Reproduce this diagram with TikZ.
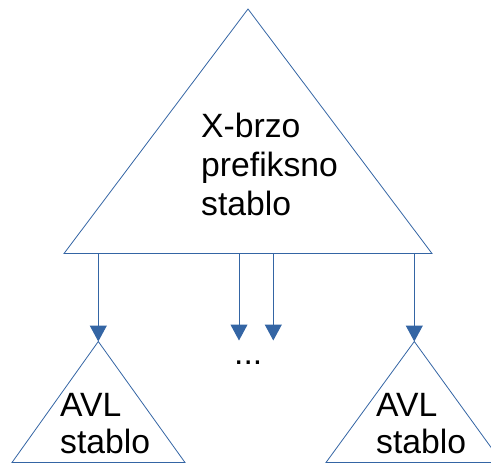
\documentclass[tikz,border=0pt]{standalone}
\usepackage{fontspec}
\setmainfont{Liberation Sans}
\usetikzlibrary{arrows.meta}
\definecolor{edge}{HTML}{3465A4}
\tikzset{
  tri/.style={draw=edge, line width=0.8pt, line join=miter},
  link/.style={draw=edge, line width=1pt, -{Triangle[length=16pt,width=17pt]}},
  lbl/.style={anchor=base west, inner sep=0pt, font=\fontsize{33.7}{38}\selectfont},
}
\begin{document}
\begin{tikzpicture}[x=1pt,y=-1pt]
  \useasboundingbox (0,0) rectangle (491,464);
  % upper tree
  \coordinate (top) at (248,9);
  \coordinate (bl) at (64,253.5);
  \coordinate (br) at (432,253.5);
  \draw[tri] (top) -- (bl) -- (br) -- cycle;
  \node[lbl] (t1) at (201,137.7) {X-brzo};
  \node[lbl] (t2) at (201,176.7) {prefiksno};
  \node[lbl] (t3) at (201,215.5) {stablo};
  % lower trees
  \coordinate (la) at (98.3,341.5);
  \coordinate (ra) at (414.3,341.5);
  \draw[tri] (la) -- (12,462.5) -- (185,462.5) -- cycle;
  \draw[tri] (ra) -- (326,462.5) -- (502,462.5) -- cycle;
  \node[lbl] (l1) at (60,416) {AVL};
  \node[lbl] (l2) at (60,453) {stablo};
  \node[lbl] (r1) at (376,416) {AVL};
  \node[lbl] (r2) at (376,453) {stablo};
  % links from the base
  \coordinate (s1) at (98.3,253.5);
  \coordinate (s2) at (239,253.5);
  \coordinate (s3) at (273.3,253.5);
  \coordinate (s4) at (414.3,253.5);
  \coordinate (m1) at (239,340.5);
  \coordinate (m2) at (273.3,340.5);
  \draw[link] (s1) -- (la);
  \draw[link] (s2) -- (m1);
  \draw[link] (s3) -- (m2);
  \draw[link] (s4) -- (ra);
  \node[lbl] (dots) at (234,364) {...};
\end{tikzpicture}
\end{document}
